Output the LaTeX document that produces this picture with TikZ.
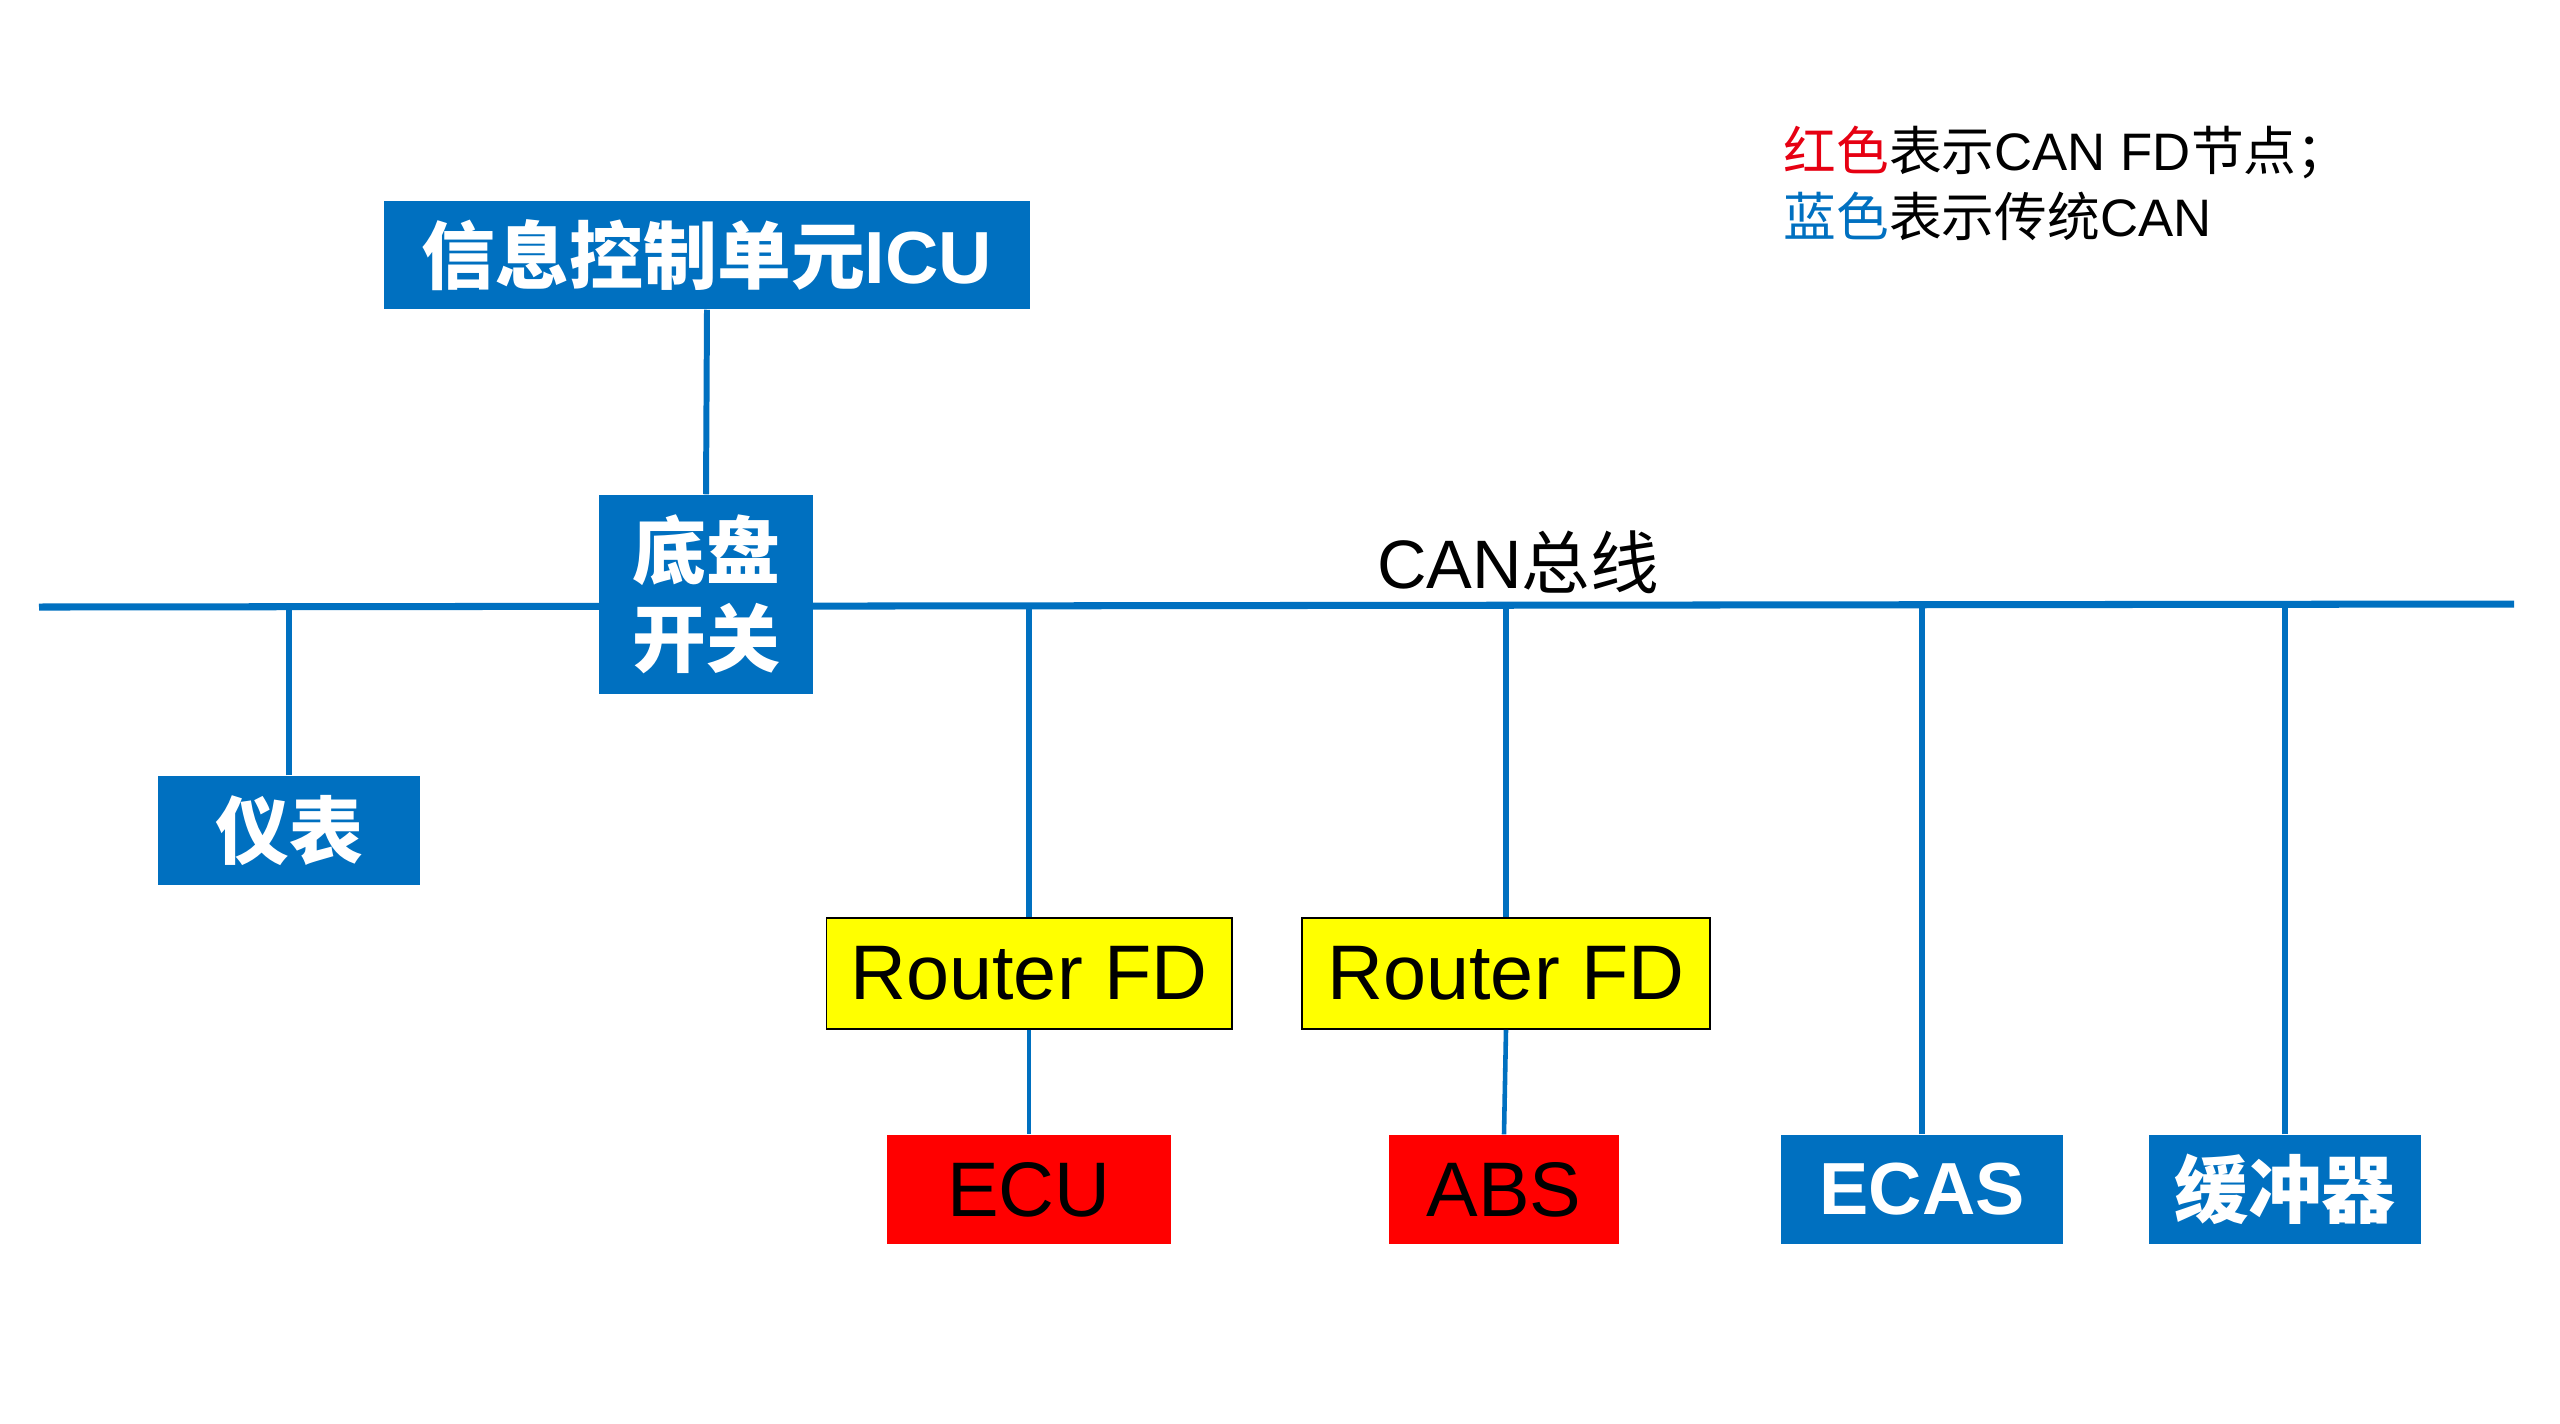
\documentclass[tikz,border=0pt]{standalone}
\usepackage{fontspec}
\setmainfont{Liberation Sans}
\newfontfamily\cjk{Noto Sans CJK SC}
\definecolor{cblue}{HTML}{0070C0}
\definecolor{cred}{HTML}{FF0000}
\definecolor{cyel}{HTML}{FFFF00}
\definecolor{lred}{HTML}{E60012}
\tikzset{
  box/.style={rectangle, inner sep=0pt, minimum height=1.09cm, align=center},
  bluebox/.style={box, fill=cblue, text=white, font=\fontsize{21}{25}\selectfont\bfseries},
  redbox/.style={box, fill=cred, text=black, font=\fontsize{22}{26}\selectfont},
  routerbox/.style={box, fill=cyel, draw=black, line width=0.5pt, text=black, font=\fontsize{22}{26}\selectfont},
  bus/.style={draw=cblue, line width=2pt},
  link/.style={draw=cblue, line width=1.7pt},
  sublink/.style={draw=cblue, line width=1.3pt}
}
\begin{document}
\begin{tikzpicture}[x=0.01cm, y=-0.01cm]
\useasboundingbox (0,0) rectangle (2560,1423);
% bus
\coordinate (busL) at (39,607);
\coordinate (busR) at (2514,604);
\coordinate (t1) at (289,607);
\coordinate (t2) at (1030,606);
\coordinate (t3) at (1504,605);
\coordinate (t4) at (1923,605);
\coordinate (t5) at (2286,604);
\draw[bus] (busL) -- (busR);
% nodes
\node[bluebox, minimum width=6.46cm, minimum height=1.08cm] (icu) at (707,255) {{\cjk\bfseries 信息控制单元}ICU};
\node[bluebox, minimum width=2.14cm, minimum height=1.99cm] (chassis) at (706,594.5) {\cjk\bfseries 底盘\\\cjk\bfseries 开关};
\node[bluebox, minimum width=2.62cm] (meter) at (289,830.5) {\cjk\bfseries 仪表};
\node[routerbox, minimum width=4.05cm, minimum height=1.11cm] (r1) at (1029,973.5) {Router FD};
\node[routerbox, minimum width=4.08cm, minimum height=1.11cm] (r2) at (1506,973.5) {Router FD};
\node[redbox, minimum width=2.84cm] (ecu) at (1029,1189.5) {ECU};
\node[redbox, minimum width=2.29cm] (abs) at (1504,1189.5) {ABS};
\node[bluebox, minimum width=2.81cm] (ecas) at (1922,1189.5) {ECAS};
\node[bluebox, minimum width=2.72cm] (buf) at (2285,1189.5) {\cjk\bfseries 缓冲器};
% connectors
\draw[link] (icu.south) -- (chassis.north);
\draw[link] (meter.north) -- (meter.north |- t1);
\draw[link] (r1.north) -- (r1.north |- t2);
\draw[link] (r2.north) -- (r2.north |- t3);
\draw[link] (ecas.north) -- (ecas.north |- t4);
\draw[link] (buf.north) -- (buf.north |- t5);
\draw[sublink] (r1.south) -- (ecu.north);
\draw[sublink] (r2.south) -- (abs.north);
% labels
\node[font=\fontsize{19.5}{23}\selectfont, inner sep=0pt] (canlbl) at (1518,562) {CAN{\cjk 总线}};
\node[font=\fontsize{15}{18}\selectfont, inner sep=0pt, anchor=west] (leg1) at (1783,152) {{\cjk\color{lred}红色}{\cjk 表示}CAN FD{\cjk 节点；}};
\node[font=\fontsize{15}{18}\selectfont, inner sep=0pt, anchor=west] (leg2) at (1783,216) {{\cjk\color{cblue}蓝色}{\cjk 表示传统}CAN};
\end{tikzpicture}
\end{document}
